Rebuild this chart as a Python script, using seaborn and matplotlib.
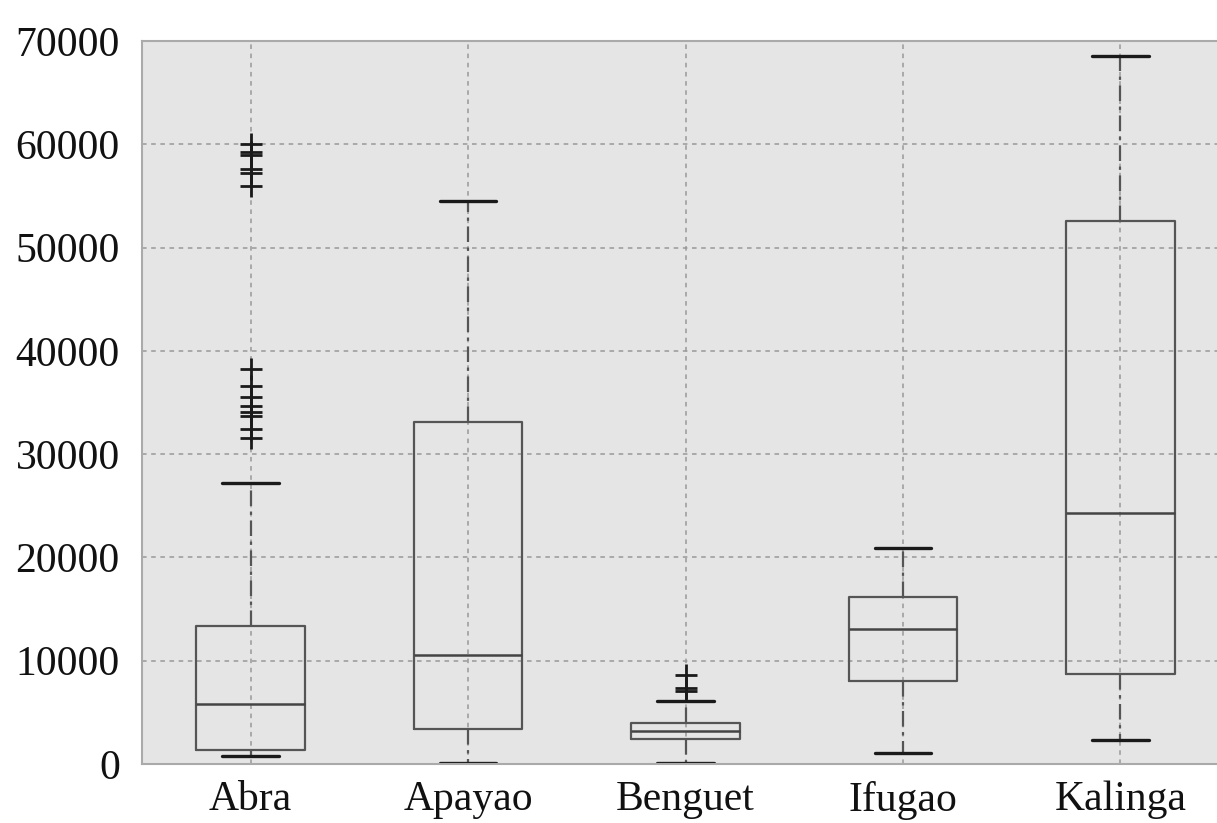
import pandas as pd
import seaborn as sns
import matplotlib.pyplot as plt

# valores (bigote inf, Q1, mediana, Q3, bigote sup)
regiones = ['Abra', 'Apayao', 'Benguet', 'Ifugao', 'Kalinga']
bigote_inf = [780, 110, 140, 1110, 2300]
q1 = [1400, 3360, 2425, 8000, 8680]
mediana = [5780, 10580, 3200, 13050, 24330]
q3 = [13380, 33120, 3970, 16150, 52540]
bigote_sup = [27180, 54470, 6070, 20880, 68550]

# atipicos
atip_region = ['Abra'] * 14 + ['Benguet'] * 3
atip_valor = [60030, 59300, 59000, 57600, 57200, 56000,
              38200, 36550, 35550, 34620, 34100, 33700, 32430, 31530,
              8650, 7400, 7100]

filas = []
for i, r in enumerate(regiones):
    for v in [bigote_inf[i], q1[i], mediana[i], q3[i], bigote_sup[i]]:
        filas.append([r, v])
df = pd.DataFrame(filas, columns=['Region', 'Valor'])
atip = pd.DataFrame({'Region': atip_region, 'Valor': atip_valor})

sns.set_style('whitegrid')
plt.rcParams['font.family'] = ['Liberation Serif', 'DejaVu Serif']

fig = plt.figure(figsize=(12.17, 8.23), dpi=100)
ax = fig.add_axes([142 / 1217, 59 / 823, 1087 / 1217, 723 / 823])
ax.set_facecolor('#e5e5e5')

sns.boxplot(data=df, x='Region', y='Valor', order=regiones, whis=(0, 100),
            width=0.5, fill=False, showfliers=False, ax=ax, color='#555555',
            linecolor='#555555', linewidth=1.6, capwidths=0.26,
            boxprops={'color': '#555555'},
            whiskerprops={'linestyle': (0, (7, 2.5, 1.5, 2.5)), 'color': '#555555'},
            capprops={'color': '#1a1a1a', 'linewidth': 2.4},
            medianprops={'color': '#444444', 'linewidth': 1.8})
sns.stripplot(data=atip, x='Region', y='Valor', order=regiones, jitter=False,
              marker='+', s=16, color='#1a1a1a', linewidth=2, ax=ax)

ax.set_xlim(-0.5, 4.5)
ax.set_ylim(0, 70000)
ax.set_yticks(range(0, 70001, 10000))
ax.grid(True, color='#999999', linestyle=(0, (3, 3)), linewidth=1.1)
ax.set_axisbelow(True)
for s in ax.spines.values():
    s.set_color('#aaaaaa')
    s.set_linewidth(1.5)
ax.tick_params(length=0, labelsize=30, colors='#111111')
ax.tick_params(axis='y', pad=16)
ax.tick_params(axis='x', pad=12)
ax.set_xlabel('')
ax.set_ylabel('')

plt.savefig('out.png', dpi=100)
